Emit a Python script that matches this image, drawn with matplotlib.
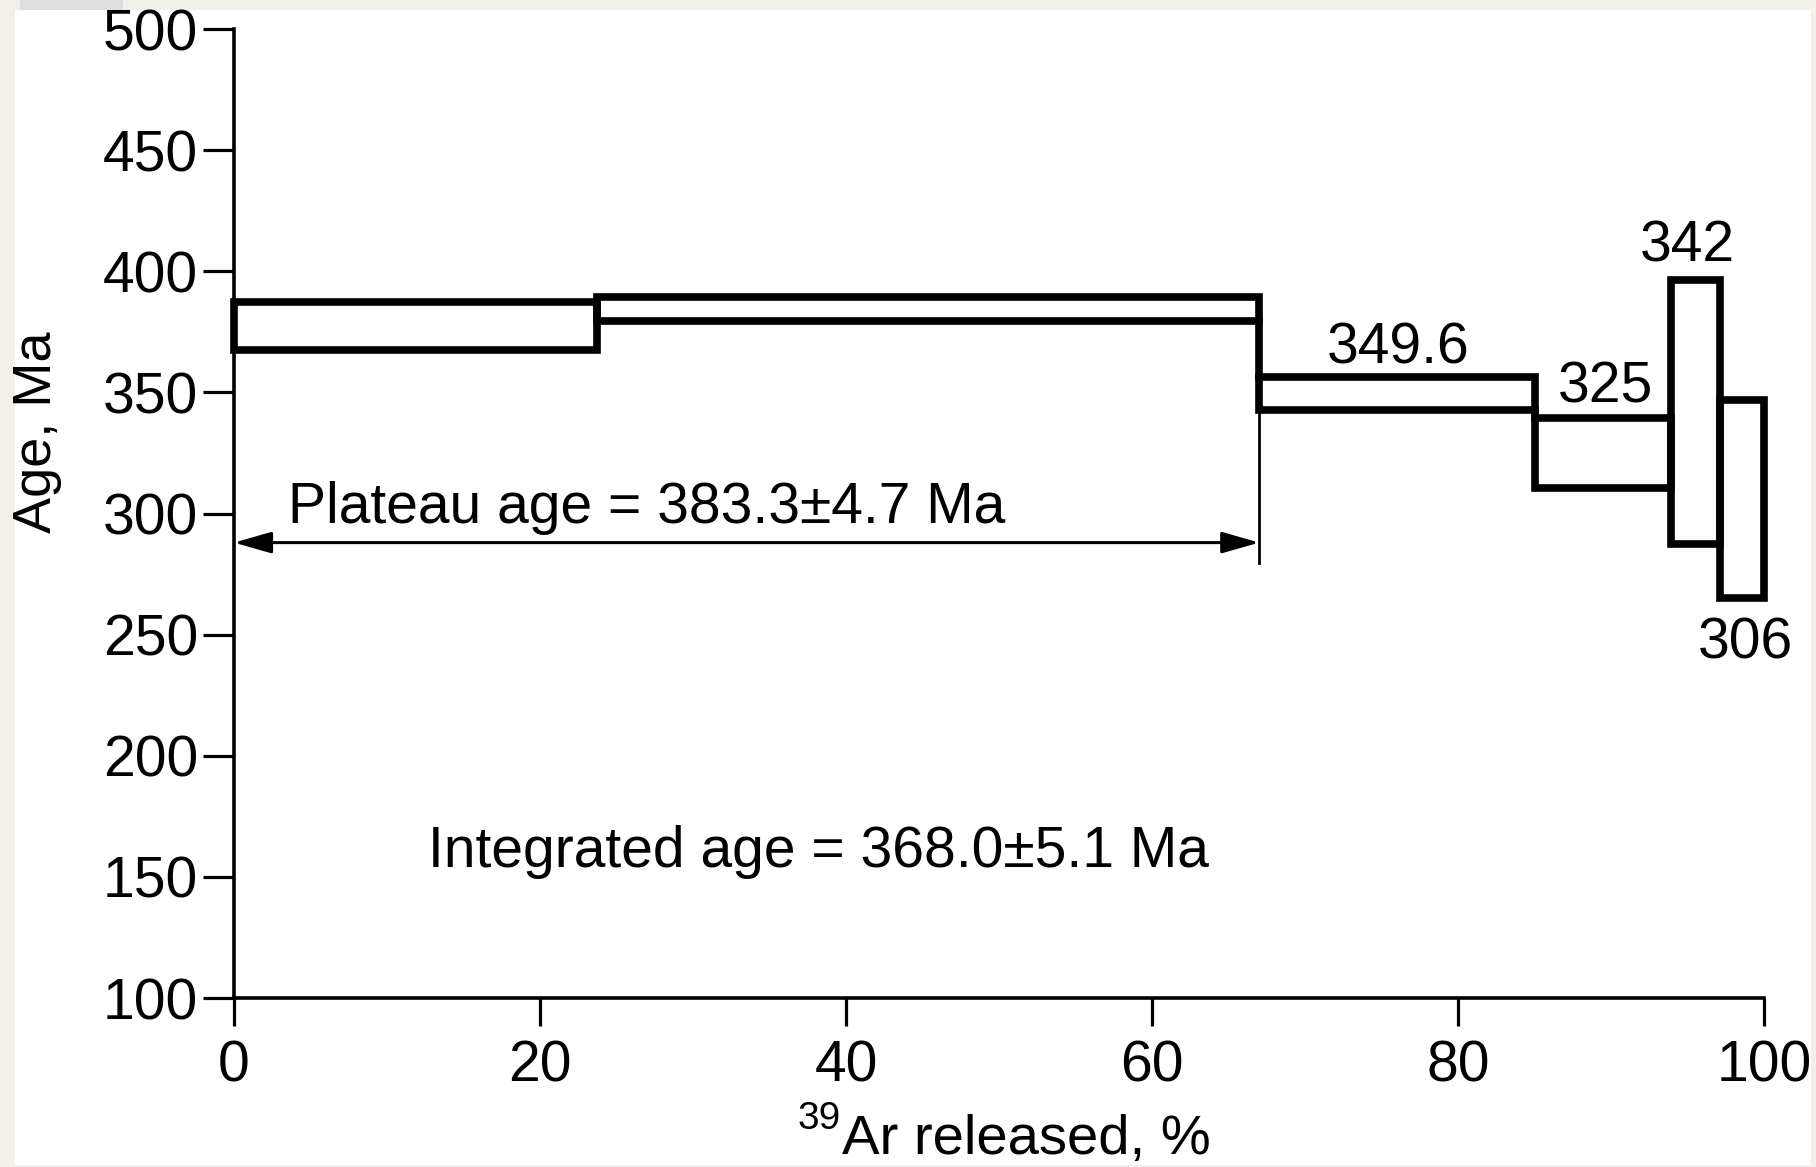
import matplotlib.pyplot as plt
from matplotlib.patches import Rectangle

# Ar-Ar age spectrum: heating steps as boxes (39Ar released vs apparent age)
step_start = [0, 23.7, 67.0, 85.0, 93.9, 97.1]
step_end = [23.7, 67.0, 85.0, 93.9, 97.1, 100]
step_age = [377.5, 384.3, 349.6, 325, 342, 306]
step_err = [10, 5, 6.8, 14.5, 54.5, 41]

# step labels: index of step, x position, baseline y
labelled_steps = [2, 3, 4, 5]
label_x = [76.1, 89.6, 95.0, 98.8]
label_y = [362, 346, 404, 240]

plateau_end = 67.0
plateau_text = "Plateau age = 383.3\u00b14.7 Ma"
integrated_text = "Integrated age = 368.0\u00b15.1 Ma"

yticks = [100, 150, 200, 250, 300, 350, 400, 450, 500]
xticks = [0, 20, 40, 60, 80, 100]

plt.rcParams['font.family'] = ['Liberation Sans', 'DejaVu Sans']

fig = plt.figure(figsize=(18.16, 11.67), dpi=100, facecolor='#f2f0e8')
# white page inside the cream border
fig.patches.append(Rectangle((15 / 1816, 2 / 1167), 1796 / 1816, 1155 / 1167,
                             transform=fig.transFigure, facecolor='white',
                             edgecolor='none', zorder=-5))
fig.patches.append(Rectangle((20 / 1816, 1157 / 1167), 103 / 1816, 10 / 1167,
                             transform=fig.transFigure, facecolor='#dededa',
                             edgecolor='none', zorder=-4))

ax = fig.add_axes([0.1289, 0.1448, 0.8425, 0.8303])
ax.set_facecolor('none')

lw = 5.5
lows = [a - e for a, e in zip(step_age, step_err)]
highs = [a + e for a, e in zip(step_age, step_err)]
for i in range(len(step_age)):
    ax.add_patch(Rectangle((step_start[i], lows[i]), step_end[i] - step_start[i],
                           highs[i] - lows[i], fill=False, edgecolor='black',
                           linewidth=lw, joinstyle='miter', clip_on=False))

# join neighbouring steps where their boxes do not overlap
for i in range(len(step_age) - 1):
    gap_lo = min(highs[i], highs[i + 1])
    gap_hi = max(lows[i], lows[i + 1])
    if gap_hi > gap_lo:
        ax.plot([step_end[i], step_end[i]], [gap_lo, gap_hi], color='black',
                linewidth=lw, solid_capstyle='projecting')

for k, i in enumerate(labelled_steps):
    ax.text(label_x[k], label_y[k], f"{step_age[i]:g}", fontsize=41,
            ha='center', va='baseline')

# plateau marker
ax.plot([plateau_end, plateau_end], [279.6, lows[2]],
        color='black', linewidth=2)
ax.annotate('', xy=(plateau_end, 288), xytext=(0, 288),
            arrowprops=dict(arrowstyle='<|-|>,head_length=1.15,head_width=0.33',
                            mutation_scale=20, color='black', lw=2.2,
                            shrinkA=0, shrinkB=0))
ax.text(3.5, 296, plateau_text, fontsize=41, ha='left', va='baseline')
ax.text(12.7, 154, integrated_text, fontsize=41, ha='left', va='baseline')

ax.set_xlim(0, 100)
ax.set_ylim(100, 500)
ax.set_xticks(xticks)
ax.set_yticks(yticks)
ax.spines['top'].set_visible(False)
ax.spines['right'].set_visible(False)
ax.spines['left'].set_linewidth(2.6)
ax.spines['bottom'].set_linewidth(2.6)
ax.tick_params(axis='y', length=22, width=2.3, pad=4, labelsize=41)
ax.tick_params(axis='x', length=20, width=2.3, pad=10, labelsize=41)

fig.text(37 / 1816, 0.63, "Age, Ma", rotation=90, fontsize=39,
         ha='center', va='center')
# x label with the isotope mass number as a superscript
fig.text(841 / 1816, 38 / 1167, "39", fontsize=28, ha='right', va='baseline')
fig.text(842 / 1816, 13 / 1167, "Ar released, %", fontsize=40.5,
         ha='left', va='baseline')

fig.savefig('out.png', dpi=100, facecolor=fig.get_facecolor())
